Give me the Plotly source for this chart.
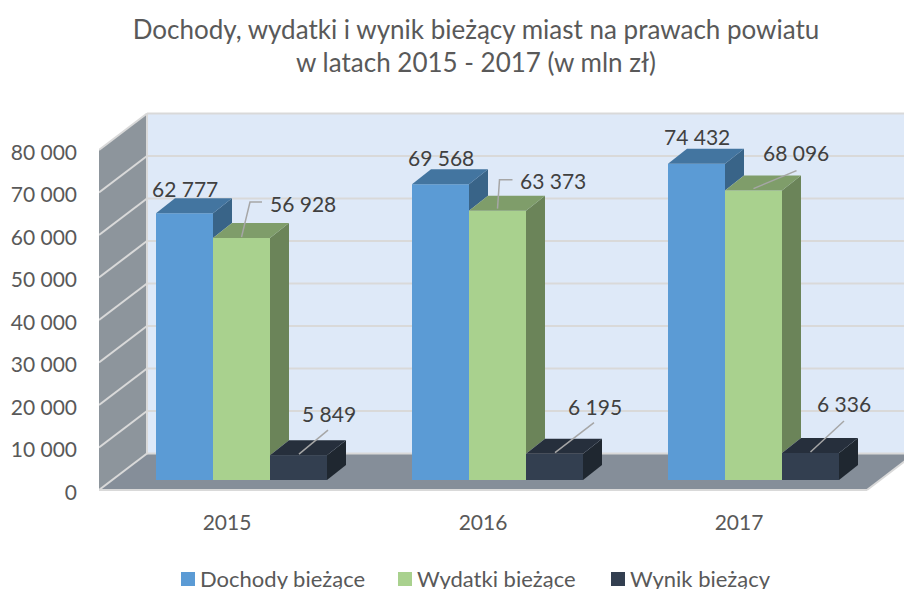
import plotly.graph_objects as go

# ---- data ----
years = [2015, 2016, 2017]
dochody = [62777, 69568, 74432]
wydatki = [56928, 63373, 68096]
wynik = [5849, 6195, 6336]
y_ticks = [0, 10000, 20000, 30000, 40000, 50000, 60000, 70000, 80000]
y_tick_labels = ["0", "10 000", "20 000", "30 000", "40 000", "50 000", "60 000", "70 000", "80 000"]
series_names = ["Dochody bieżące", "Wydatki bieżące", "Wynik bieżący"]
title_text = "Dochody, wydatki i wynik bieżący miast na prawach powiatu<br>w latach 2015 - 2017 (w mln zł)"

# ---- style ----
FONT = "Lato"
TXT = "#595959"
LBL = "#404040"
front = ["#5B9BD5", "#A9D18E", "#333F50"]
top = ["#4375A0", "#7F9D6A", "#262F3C"]
side = ["#396488", "#6B8459", "#1F2730"]
GRID = "#D9D9D9"
legend_swatch_px = [181, 398, 611]

W, H = 904, 589
EXTRA = 9                   # pixels of plot area kept below the zero line
ML, MB, MT = 99, 99 - EXTRA, 90
PX_X = 256.0                # pixels per year on the x axis
PX_Y = 4.25 / 1000.0        # pixels per unit on the y axis
PLOT_H = H - MB - MT
x0 = years[0] - 0.5
xr = [x0, x0 + (W - ML) / PX_X]
yr = [-EXTRA / PX_Y, (PLOT_H - EXTRA) / PX_Y]
LABEL_DROP = 2.5 / PX_Y     # tick labels sit slightly below their gridline ends

def dx(px):
    return px / PX_X

def dy(px):
    return px / PX_Y

# oblique projection
WALL_DX, WALL_DY = dx(48), dy(36.5)
BAR_DX, BAR_DY = dx(19), dy(15)
BAR_W = dx(57)
LIFT = dy(10)
SHIFT = dx(14.5)

shapes = []

def poly(pts, fill):
    path = "M " + " L ".join(f"{a},{b}" for a, b in pts) + " Z"
    shapes.append(dict(type="path", path=path, xref="x", yref="y", fillcolor=fill,
                       line=dict(width=0), layer="below"))

def seg(a, b, c, d, width=2, color=GRID):
    shapes.append(dict(type="line", x0=a, y0=b, x1=c, y1=d, xref="x", yref="y",
                       line=dict(color=color, width=width), layer="below"))

xl, xe = x0, x0 + 3
ymax = y_ticks[-1]
poly([(xl + WALL_DX, WALL_DY), (xe + WALL_DX, WALL_DY), (xe + WALL_DX, ymax + WALL_DY), (xl + WALL_DX, ymax + WALL_DY)], "#DEE9F8")
poly([(xl, 0), (xl + WALL_DX, WALL_DY), (xl + WALL_DX, ymax + WALL_DY), (xl, ymax)], "#8D959C")
poly([(xl, 0), (xe, 0), (xe + WALL_DX, WALL_DY), (xl + WALL_DX, WALL_DY)], "#858E99")
for t in y_ticks:
    seg(xl, t, xl + WALL_DX, t + WALL_DY)
    seg(xl + WALL_DX, t + WALL_DY, xe + WALL_DX, t + WALL_DY)
seg(xl + WALL_DX, WALL_DY, xl + WALL_DX, ymax + WALL_DY)
seg(xl, 0, xe, 0)
seg(xe, 0, xe + WALL_DX, WALL_DY)

fig = go.Figure()
all_vals = [dochody, wydatki, wynik]
xs = [y + SHIFT for y in years]
for s, vals in enumerate(all_vals):
    fig.add_trace(go.Bar(
        x=xs, y=vals, base=LIFT, name=series_names[s], width=BAR_W,
        offset=(s - 1.5) * BAR_W, marker=dict(color=front[s], line=dict(width=0)),
        hoverinfo="skip", showlegend=False))

# invisible trace that keeps the tick-label axis alive
fig.add_trace(go.Scatter(x=[years[0]], y=[0], yaxis="y2", mode="markers",
                         marker=dict(opacity=0), showlegend=False, hoverinfo="skip"))

# top and side faces, painted left to right
def face(pts, color):
    fig.add_trace(go.Scatter(
        x=[p[0] for p in pts] + [pts[0][0]], y=[p[1] for p in pts] + [pts[0][1]],
        mode="lines", fill="toself", fillcolor=color, line=dict(width=0),
        showlegend=False, hoverinfo="skip"))

for c in range(len(years)):
    for s, vals in enumerate(all_vals):
        l = xs[c] + (s - 1.5) * BAR_W
        r = l + BAR_W
        t = vals[c] + LIFT
        low = all_vals[s + 1][c] + LIFT if s < 2 else LIFT
        face([(r, low), (r, t), (r + BAR_DX, t + BAR_DY), (r + BAR_DX, low + BAR_DY)], side[s])
        face([(l, t), (r, t), (r + BAR_DX, t + BAR_DY), (l + BAR_DX, t + BAR_DY)], top[s])

# data labels and leader lines: pixel offsets from top-front centre of each bar
label_off = [
    [(0, 25), (0, 27), (0, 27)],
    [(61.5, 35), (55.5, 30), (42.5, 38)],
    [(30, 42), (40, 47), (33.5, 50)],
]
leaders = [
    [],
    [[(0, 1), (8.5, 36), (20.5, 36)], [(0, 2), (2, 31), (15, 31)], [(0, 2), (43, 20)]],
    [[(0.5, 1), (29.5, 25)], [(0.5, 1), (39.5, 31)], [(0, 1), (33.5, 32)]],
]
annotations = []
for s, vals in enumerate(all_vals):
    for c, v in enumerate(vals):
        cx = xs[c] + (s - 1) * BAR_W
        t = v + LIFT
        ox, oy = label_off[s][c]
        annotations.append(dict(
            x=cx, y=t, xref="x", yref="y", xshift=ox, yshift=oy, showarrow=False,
            text=f"{v:,}".replace(",", " "), font=dict(family=FONT, size=21, color=LBL),
            xanchor="center", yanchor="middle"))
        if leaders[s]:
            pts = leaders[s][c]
            fig.add_trace(go.Scatter(
                x=[cx + dx(p[0]) for p in pts], y=[t + dy(p[1]) for p in pts],
                mode="lines", line=dict(color="#A6A6A6", width=1.5),
                showlegend=False, hoverinfo="skip"))

# legend: colour square followed by the series name
def paper_x(px):
    return (px - ML) / (W - ML)

def paper_y(py):
    return (H - MB - py) / PLOT_H

LEG_Y, SW = 579, 14
for s, name in enumerate(series_names):
    sx = legend_swatch_px[s]
    shapes.append(dict(type="rect", xref="paper", yref="paper",
                       x0=paper_x(sx), x1=paper_x(sx + SW),
                       y0=paper_y(LEG_Y + SW / 2), y1=paper_y(LEG_Y - SW / 2),
                       fillcolor=front[s], line=dict(width=0)))
    annotations.append(dict(x=paper_x(sx + SW + 3), y=paper_y(LEG_Y - 1), xref="paper", yref="paper",
                            text=name, showarrow=False, xanchor="left", yanchor="middle",
                            font=dict(family=FONT, size=22, color=TXT)))

fig.update_layout(
    width=W, height=H, autosize=False,
    margin=dict(l=ML, r=0, t=MT, b=MB, pad=0),
    paper_bgcolor="white", plot_bgcolor="white",
    barmode="overlay",
    showlegend=False,
    title=dict(text=title_text, x=476 / W, xanchor="center", y=1 - 38.5 / H, yanchor="middle",
               font=dict(family=FONT, size=26, color=TXT)),
    xaxis=dict(range=xr, tickmode="array", tickvals=years, ticktext=[str(y) for y in years],
               showgrid=False, zeroline=False, showline=False, ticks="", ticklabelstandoff=9,
               tickfont=dict(family=FONT, size=21, color=TXT), fixedrange=True),
    yaxis=dict(range=yr, showticklabels=False, ticks="", showgrid=False, zeroline=False,
               showline=False, fixedrange=True),
    yaxis2=dict(range=[yr[0] + LABEL_DROP, yr[1] + LABEL_DROP], overlaying="y", side="left", anchor="x",
                tickmode="array", tickvals=y_ticks, ticktext=y_tick_labels,
                showgrid=False, zeroline=False, showline=False, ticks="", ticklabelstandoff=21,
                tickfont=dict(family=FONT, size=21, color=TXT), fixedrange=True),
    shapes=shapes, annotations=annotations,
)
fig.write_html("out.html", config=dict(displayModeBar=False),
               post_script="document.body.style.margin='0';document.documentElement.style.overflow='hidden';")
